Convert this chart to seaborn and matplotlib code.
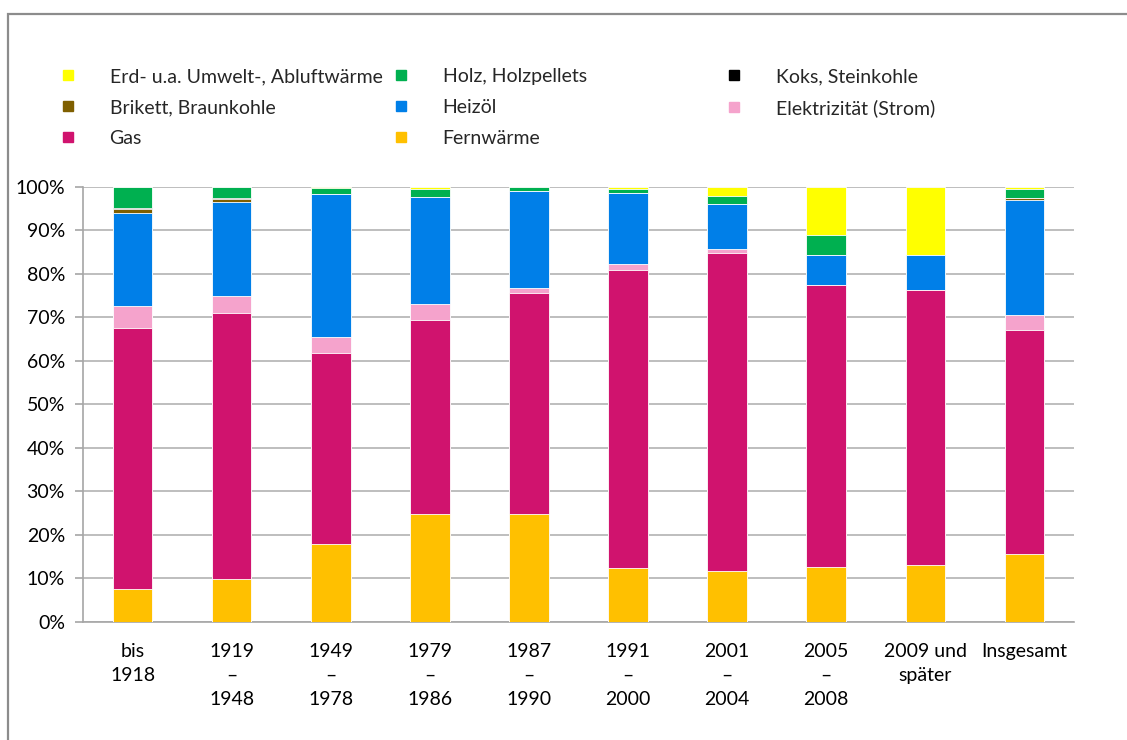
import matplotlib
matplotlib.use("Agg")
import matplotlib.pyplot as plt
from matplotlib.lines import Line2D
from matplotlib.patches import Rectangle
import numpy as np
import pandas as pd
import seaborn as sns

categories = ["bis\n1918", "1919\n–\n1948", "1949\n–\n1978", "1979\n–\n1986", "1987\n–\n1990",
              "1991\n–\n2000", "2001\n–\n2004", "2005\n–\n2008", "2009 und\nspäter", "Insgesamt"]

# stacking order bottom -> top
fernwaerme   = [7.5, 9.9, 17.9, 24.9, 24.9, 12.4, 11.7, 12.7, 13.1, 15.6]
gas          = [60.0, 61.0, 43.9, 44.4, 50.6, 68.5, 73.0, 64.7, 63.2, 51.5]
elektrizitaet= [5.1, 4.1, 3.7, 3.8, 1.2, 1.3, 1.1, 0.0, 0.0, 3.5]
heizoel      = [21.4, 21.6, 32.8, 24.6, 22.2, 16.4, 10.3, 6.8, 7.9, 26.3]
brikett      = [0.8, 0.6, 0.0, 0.0, 0.0, 0.0, 0.0, 0.0, 0.0, 0.4]
koks         = [0.3, 0.2, 0.0, 0.0, 0.0, 0.0, 0.0, 0.0, 0.0, 0.0]
holz         = [4.9, 2.6, 1.4, 1.8, 1.1, 0.9, 1.8, 4.8, 0.2, 2.2]
erdwaerme    = [0.0, 0.0, 0.3, 0.5, 0.0, 0.5, 2.1, 11.0, 15.6, 0.5]

series_names = ["Fernwärme", "Gas", "Elektrizität (Strom)", "Heizöl",
                "Brikett, Braunkohle", "Koks, Steinkohle", "Holz, Holzpellets",
                "Erd- u.a. Umwelt-, Abluftwärme"]
series_vals = [fernwaerme, gas, elektrizitaet, heizoel, brikett, koks, holz, erdwaerme]
colors = ["#FFC000", "#D0136E", "#F5A3CC", "#007FE8", "#7F5F00", "#000000", "#00B050", "#FFFF00"]

sns.set_theme(style="white")
plt.rcParams["font.family"] = ["Lato", "DejaVu Sans"]

fig = plt.figure(figsize=(11.27, 7.40), dpi=100)
ax = fig.add_axes([83/1127, 1-622/740, (1074-83)/1127, (622-186.7)/740])

cum = np.cumsum(np.array(series_vals), axis=0)
# draw from top layer down so lower layers overlay
for i in range(len(series_names) - 1, -1, -1):
    df = pd.DataFrame({"cat": categories, "val": cum[i]})
    sns.barplot(data=df, x="cat", y="val", color=colors[i], width=0.4,
                saturation=1, ax=ax, order=categories, zorder=3,
                edgecolor="white", linewidth=0.6)

ax.set_ylim(0, 100)
ax.set_xlim(-0.5, len(categories) - 0.5)
ax.set_yticks(np.arange(0, 101, 10))
ax.set_yticklabels([f"{v}%" for v in range(0, 101, 10)])
ax.set_xlabel("")
ax.set_ylabel("")
ax.yaxis.grid(True, color="#b3b3b3", linewidth=1.2, zorder=0)
ax.set_axisbelow(True)
for s in ["top", "right"]:
    ax.spines[s].set_visible(False)
for s in ["left", "bottom"]:
    ax.spines[s].set_color("#a6a6a6")
    ax.spines[s].set_linewidth(1.2)

# category labels at centers, ticks at boundaries
ax.set_xticks(range(len(categories)))
ax.set_xticklabels(categories, linespacing=1.5, va="top")
ax.tick_params(axis="x", length=0, pad=15, labelsize=14, labelcolor="black")
ax.set_xticks(np.arange(-0.5, len(categories), 1.0), minor=True)
ax.tick_params(axis="x", which="minor", length=6, color="#a6a6a6", width=1.2)
ax.tick_params(axis="y", length=6, color="#a6a6a6", width=1.2, labelsize=14,
               labelcolor="black", pad=7, left=True)

# legend in three columns
handles = {n: Line2D([], [], linestyle="none", marker="s", markersize=7.5,
                     markerfacecolor=c, markeredgecolor=c)
           for n, c in zip(series_names, colors)}
cols = [["Erd- u.a. Umwelt-, Abluftwärme", "Brikett, Braunkohle", "Gas"],
        ["Holz, Holzpellets", "Heizöl", "Fernwärme"],
        ["Koks, Steinkohle", "Elektrizität (Strom)"]]
xs = [60, 393, 726]
for names, x in zip(cols, xs):
    fig.legend([handles[n] for n in names], names, loc="upper left",
               bbox_to_anchor=(x/1127, 1-68/740), frameon=False,
               fontsize=14, handlelength=0.8, handletextpad=1.75,
               labelspacing=0.72, borderpad=0, borderaxespad=0)

# outer frame
fig.add_artist(Rectangle((8/1127, -0.05), 1.1, 1-14/740+0.05, transform=fig.transFigure,
                         fill=False, edgecolor="#8c8c8c", linewidth=1.6))

fig.savefig("out.png", dpi=100)
